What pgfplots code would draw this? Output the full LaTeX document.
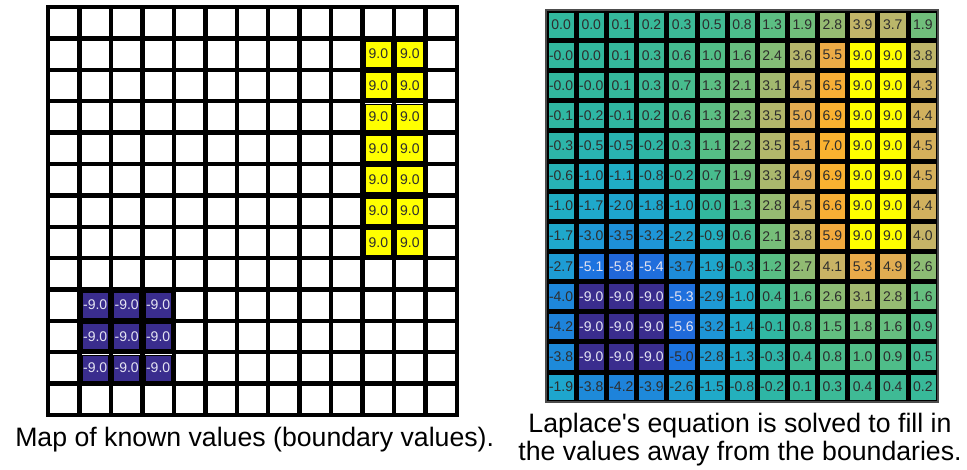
\documentclass[border=0pt]{standalone}
\usepackage{fontspec}
\setmainfont{Liberation Sans}
\usepackage{pgfplots}
\usepackage{pgfplotstable}
\pgfplotsset{compat=1.18}

\definecolor{celltext}{RGB}{45,45,45}
\definecolor{celltextlight}{RGB}{228,228,242}

% colour scale shared by both grids: one entry per unit from -9 to 9
\pgfplotsset{
  colormap={laplace}{
    rgb255=(58,45,142)   rgb255=(52,63,166)   rgb255=(45,81,190)
    rgb255=(34,99,214)   rgb255=(29,117,224)  rgb255=(30,135,218)
    rgb255=(30,152,214)  rgb255=(30,165,206)  rgb255=(32,174,196)
    rgb255=(50,184,158)  rgb255=(82,190,135)  rgb255=(115,190,122)
    rgb255=(158,186,112) rgb255=(198,180,103) rgb255=(228,172,80)
    rgb255=(244,170,60)  rgb255=(250,178,48)  rgb255=(252,210,30)
    rgb255=(255,255,0)
  },
}

% known (boundary) values: column, row, value
\pgfplotstableread[row sep=\\]{
x y v \\
10 1 9.0 \\ 11 1 9.0 \\
10 2 9.0 \\ 11 2 9.0 \\
10 3 9.0 \\ 11 3 9.0 \\
10 4 9.0 \\ 11 4 9.0 \\
10 5 9.0 \\ 11 5 9.0 \\
10 6 9.0 \\ 11 6 9.0 \\
10 7 9.0 \\ 11 7 9.0 \\
1 9 -9.0 \\ 2 9 -9.0 \\ 3 9 -9.0 \\
1 10 -9.0 \\ 2 10 -9.0 \\ 3 10 -9.0 \\
1 11 -9.0 \\ 2 11 -9.0 \\ 3 11 -9.0 \\
}\known

% solution of Laplace's equation: column, row, value (one grid row per line)
\pgfplotstableread[row sep=\\]{
x y v \\
0 0 0.0 \\ 1 0 0.0 \\ 2 0 0.1 \\ 3 0 0.2 \\ 4 0 0.3 \\ 5 0 0.5 \\ 6 0 0.8 \\ 7 0 1.3 \\ 8 0 1.9 \\ 9 0 2.8 \\ 10 0 3.9 \\ 11 0 3.7 \\ 12 0 1.9 \\
0 1 -0.0 \\ 1 1 0.0 \\ 2 1 0.1 \\ 3 1 0.3 \\ 4 1 0.6 \\ 5 1 1.0 \\ 6 1 1.6 \\ 7 1 2.4 \\ 8 1 3.6 \\ 9 1 5.5 \\ 10 1 9.0 \\ 11 1 9.0 \\ 12 1 3.8 \\
0 2 -0.0 \\ 1 2 -0.0 \\ 2 2 0.1 \\ 3 2 0.3 \\ 4 2 0.7 \\ 5 2 1.3 \\ 6 2 2.1 \\ 7 2 3.1 \\ 8 2 4.5 \\ 9 2 6.5 \\ 10 2 9.0 \\ 11 2 9.0 \\ 12 2 4.3 \\
0 3 -0.1 \\ 1 3 -0.2 \\ 2 3 -0.1 \\ 3 3 0.2 \\ 4 3 0.6 \\ 5 3 1.3 \\ 6 3 2.3 \\ 7 3 3.5 \\ 8 3 5.0 \\ 9 3 6.9 \\ 10 3 9.0 \\ 11 3 9.0 \\ 12 3 4.4 \\
0 4 -0.3 \\ 1 4 -0.5 \\ 2 4 -0.5 \\ 3 4 -0.2 \\ 4 4 0.3 \\ 5 4 1.1 \\ 6 4 2.2 \\ 7 4 3.5 \\ 8 4 5.1 \\ 9 4 7.0 \\ 10 4 9.0 \\ 11 4 9.0 \\ 12 4 4.5 \\
0 5 -0.6 \\ 1 5 -1.0 \\ 2 5 -1.1 \\ 3 5 -0.8 \\ 4 5 -0.2 \\ 5 5 0.7 \\ 6 5 1.9 \\ 7 5 3.3 \\ 8 5 4.9 \\ 9 5 6.9 \\ 10 5 9.0 \\ 11 5 9.0 \\ 12 5 4.5 \\
0 6 -1.0 \\ 1 6 -1.7 \\ 2 6 -2.0 \\ 3 6 -1.8 \\ 4 6 -1.0 \\ 5 6 0.0 \\ 6 6 1.3 \\ 7 6 2.8 \\ 8 6 4.5 \\ 9 6 6.6 \\ 10 6 9.0 \\ 11 6 9.0 \\ 12 6 4.4 \\
0 7 -1.7 \\ 1 7 -3.0 \\ 2 7 -3.5 \\ 3 7 -3.2 \\ 4 7 -2.2 \\ 5 7 -0.9 \\ 6 7 0.6 \\ 7 7 2.1 \\ 8 7 3.8 \\ 9 7 5.9 \\ 10 7 9.0 \\ 11 7 9.0 \\ 12 7 4.0 \\
0 8 -2.7 \\ 1 8 -5.1 \\ 2 8 -5.8 \\ 3 8 -5.4 \\ 4 8 -3.7 \\ 5 8 -1.9 \\ 6 8 -0.3 \\ 7 8 1.2 \\ 8 8 2.7 \\ 9 8 4.1 \\ 10 8 5.3 \\ 11 8 4.9 \\ 12 8 2.6 \\
0 9 -4.0 \\ 1 9 -9.0 \\ 2 9 -9.0 \\ 3 9 -9.0 \\ 4 9 -5.3 \\ 5 9 -2.9 \\ 6 9 -1.0 \\ 7 9 0.4 \\ 8 9 1.6 \\ 9 9 2.6 \\ 10 9 3.1 \\ 11 9 2.8 \\ 12 9 1.6 \\
0 10 -4.2 \\ 1 10 -9.0 \\ 2 10 -9.0 \\ 3 10 -9.0 \\ 4 10 -5.6 \\ 5 10 -3.2 \\ 6 10 -1.4 \\ 7 10 -0.1 \\ 8 10 0.8 \\ 9 10 1.5 \\ 10 10 1.8 \\ 11 10 1.6 \\ 12 10 0.9 \\
0 11 -3.8 \\ 1 11 -9.0 \\ 2 11 -9.0 \\ 3 11 -9.0 \\ 4 11 -5.0 \\ 5 11 -2.8 \\ 6 11 -1.3 \\ 7 11 -0.3 \\ 8 11 0.4 \\ 9 11 0.8 \\ 10 11 1.0 \\ 11 11 0.9 \\ 12 11 0.5 \\
0 12 -1.9 \\ 1 12 -3.8 \\ 2 12 -4.2 \\ 3 12 -3.9 \\ 4 12 -2.6 \\ 5 12 -1.5 \\ 6 12 -0.8 \\ 7 12 -0.2 \\ 8 12 0.1 \\ 9 12 0.3 \\ 10 12 0.4 \\ 11 12 0.4 \\ 12 12 0.2 \\
}\solved

\pgfplotsset{
  cellgrid/.style={
    scale only axis,
    width=294pt, height=294pt,
    xmin=-0.5, xmax=12.5, ymin=-0.5, ymax=12.5, y dir=reverse,
    colormap name=laplace, point meta min=-9, point meta max=9,
    clip=false,
  },
  % coloured cell squares, coloured by value
  cells/.style={
    scatter, only marks, mark=square*, mark size=#1,
    point meta=explicit,
  },
  % printed cell values, written exactly as stored in the table
  cellnums/.style={
    only marks, mark=*, mark size=0pt, mark options={draw=none, fill=none},
    point meta=explicit symbolic,
    nodes near coords={\pgfplotspointmeta},
    every node near coord/.append style={anchor=center, inner sep=0pt,
      font=\fontsize{10.5}{12}\selectfont, text=#1},
  },
  % deep blue cells carry light text, all others dark text
  lighttext/.style={restrict expr to domain={\thisrow{v}}{-10:-5.05}},
  darktext/.style={restrict expr to domain={\thisrow{v}}{-5.05:10}},
}

\begin{document}
\begin{tikzpicture}
\useasboundingbox (0,0) rectangle (725.25pt,-351.75pt);

% map of known values
\begin{axis}[cellgrid,
  at={(36pt,-5.25pt)}, anchor=north west,
  width=306.75pt, height=306pt,
  axis background/.style={fill=white},
  xtick={-0.5,0.5,...,12.5}, ytick={-0.5,0.5,...,12.5},
  xticklabels={}, yticklabels={}, major tick length=0pt,
  grid=major, grid style={black, line width=3.3pt},
  axis line style={black, line width=3pt},
]
\addplot[cells=9.8pt, scatter/use mapped color={draw=none, fill=mapped color}]
  table[x=x, y=y, meta=v] \known;
\addplot[cellnums=celltext, darktext] table[x=x, y=y, meta=v] \known;
\addplot[cellnums=celltextlight, lighttext] table[x=x, y=y, meta=v] \known;
\end{axis}

% solved field
\begin{axis}[cellgrid,
  at={(409.5pt,-7.5pt)}, anchor=north west,
  axis background/.style={fill=black},
  xtick={-0.5,0.5,...,12.5}, ytick={-0.5,0.5,...,12.5},
  xticklabels={}, yticklabels={}, major tick length=0pt,
  axis line style={black!70, line width=0.8pt},
]
\addplot[cells=9.8pt, scatter/use mapped color={draw=none, fill=mapped color}]
  table[x=x, y=y, meta=v] \solved;
\addplot[cellnums=celltext, darktext] table[x=x, y=y, meta=v] \solved;
\addplot[cellnums=celltextlight, lighttext] table[x=x, y=y, meta=v] \solved;
\end{axis}

\node[font=\fontsize{20}{21}\selectfont] at (191pt,-329.5pt)
  {Map of known values (boundary values).};
\node[align=center, font=\fontsize{20}{21}\selectfont] at (555pt,-329.5pt)
  {Laplace\textquotesingle s equation is solved to fill in\\the values away from the boundaries.};
\end{tikzpicture}
\end{document}
